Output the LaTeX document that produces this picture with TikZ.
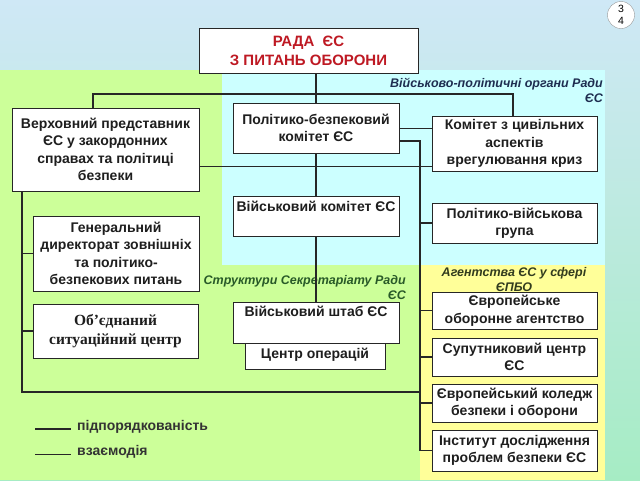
\documentclass[tikz,border=0pt]{standalone}
\usepackage{fontspec}
\setmainfont{Liberation Sans}
\newfontfamily\serifbf{Liberation Serif}
\usetikzlibrary{calc}
\definecolor{bgtop}{RGB}{207,232,246}
\definecolor{bgbot}{RGB}{166,236,196}
\definecolor{zgreen}{RGB}{204,255,153}
\definecolor{zcyan}{RGB}{204,255,255}
\definecolor{zyellow}{RGB}{255,255,153}
\definecolor{txtc}{RGB}{30,30,30}
\definecolor{radared}{RGB}{190,25,35}
\definecolor{navy}{RGB}{30,45,80}
\definecolor{dkgreen}{RGB}{40,90,40}
\definecolor{dkolive}{RGB}{50,60,30}
\tikzset{
  box/.style={draw=black!85, line width=0.9pt, fill=white, align=center, inner sep=1pt,
    font=\bfseries\fontsize{14}{17.5}\selectfont, text=txtc},
  sub/.style={line width=1.3pt, black!85},
  inter/.style={line width=0.8pt, black!85},
  zlabel/.style={font=\bfseries\itshape\fontsize{12.5}{15}\selectfont, inner sep=0pt}
}
\begin{document}
\begin{tikzpicture}[x=1pt,y=-1pt]
\useasboundingbox (0,0) rectangle (640,480);
\shade[top color=bgtop, bottom color=bgbot] (0,0) rectangle (640,480);
% zones
\fill[zgreen] (0,70) rectangle (420,480);
\fill[zcyan] (222,70) rectangle (605,265);
\fill[zyellow] (420,265) rectangle (605,480);
% zone labels
\node[zlabel, text=navy, anchor=east, align=right] (lab1) at (603,90) {Військово-політичні органи Ради\\ЄС};
\node[zlabel, text=dkgreen, anchor=east, align=right] (lab2) at (406,288) {Структури Секретаріату Ради\\ЄС};
\node[zlabel, text=dkolive, align=center] (lab3) at (514,280) {Агентства ЄС у сфері\\ЄПБО};
% page number
\node[circle, draw=black!40, fill=white, minimum size=27pt, inner sep=0pt, align=center,
  font=\fontsize{10.5}{11.5}\selectfont] (pg) at (621,15) {3\\4};
% coordinates
\coordinate (hrTop) at (93,94);
\coordinate (civTop) at (513,94);
\coordinate (rv) at (420,141);
\coordinate (lb) at (22,392);
% connectors (behind boxes)
\draw[sub] (316,73) -- (316,302);
\draw[sub] (93,108) -- (hrTop) -- (civTop) -- (513,116);
\draw[sub] (399,141) -- (rv) -- (420,450.5);
\draw[sub] (22,191) -- (lb) -- (lb -| rv);
% boxes
\node[box, minimum width=219pt, minimum height=45pt, text=radared,
  font=\bfseries\fontsize{15}{19}\selectfont] (rada) at (308.5,50.5) {РАДА\ \ ЄС\\З ПИТАНЬ ОБОРОНИ};
\node[box, minimum width=187pt, minimum height=83pt] (hr) at (105.5,149.5) {Верховний представник\\ЄС у закордонних\\справах та політиці\\безпеки};
\node[box, minimum width=166pt, minimum height=50pt] (psc) at (316,128) {Політико-безпековий\\комітет ЄС};
\node[box, minimum width=166pt, minimum height=40pt] (mc) at (316,216) {};
\node[box, draw=none, fill=none] (mct) at (316,206) {Військовий комітет ЄС};
\node[box, minimum width=140pt, minimum height=30pt] (co) at (315,354) {};
\node[box, draw=none, fill=none] (cot) at (315,355) {Центр операцій};
\node[box, minimum width=166pt, minimum height=41pt] (ms) at (316,322.5) {};
\node[box, draw=none, fill=none] (mst) at (316,311) {Військовий штаб ЄС};
\node[box, minimum width=165pt, minimum height=55pt] (ci) at (514.5,143.5) {Комітет з цивільних\\аспектів\\врегулювання криз};
\node[box, minimum width=165pt, minimum height=40pt] (pmg) at (514.5,223) {Політико-військова\\група};
\node[box, minimum width=166pt, minimum height=75pt] (gd) at (116,253.5) {Генеральний\\директорат зовнішніх\\та політико-\\безпекових питань};
\node[box, minimum width=165pt, minimum height=54pt, font=\serifbf\bfseries\fontsize{15.5}{18.5}\selectfont] (sc) at (115.5,331) {Об’єднаний\\ситуаційний центр};
\node[box, minimum width=165pt, minimum height=37pt] (eda) at (514.5,310.5) {Європейське\\оборонне агентство};
\node[box, minimum width=165pt, minimum height=38pt] (sat) at (514.5,357) {Супутниковий центр\\ЄС};
\node[box, minimum width=165pt, minimum height=38pt] (esdc) at (514.5,403) {Європейський коледж\\безпеки і оборони};
\node[box, minimum width=165pt, minimum height=41pt] (iss) at (514.5,450.5) {Інститут дослідження\\проблем безпеки ЄС};
% branches
\draw[inter] (psc.east) -- (psc.east -| ci.west);
\draw[inter] ($(hr.east)+(0,16.5)$) -- ($(ci.west)+(0,22.5)$);
\draw[sub] (pmg.west -| rv) -- (pmg.west);
\draw[sub] (eda.west -| rv) -- (eda.west);
\draw[sub] (sat.west -| rv) -- (sat.west);
\draw[sub] (esdc.west -| rv) -- (esdc.west);
\draw[sub] (iss.west -| rv) -- (iss.west);
\draw[sub] (gd.west -| lb) -- (gd.west);
\draw[sub] (sc.west -| lb) -- (sc.west);
% legend
\coordinate (l1a) at (35,429); \coordinate (l1b) at (71,429);
\coordinate (l2a) at (35,454); \coordinate (l2b) at (71,454);
\draw[sub] (l1a) -- (l1b);
\draw[inter] (l2a) -- (l2b);
\node[anchor=west, font=\bfseries\fontsize{14}{16}\selectfont, text=black!80, inner sep=0pt] (leg1) at (77,427) {підпорядкованість};
\node[anchor=west, font=\bfseries\fontsize{14}{16}\selectfont, text=black!80, inner sep=0pt] (leg2) at (77,452) {взаємодія};
\end{tikzpicture}
\end{document}
